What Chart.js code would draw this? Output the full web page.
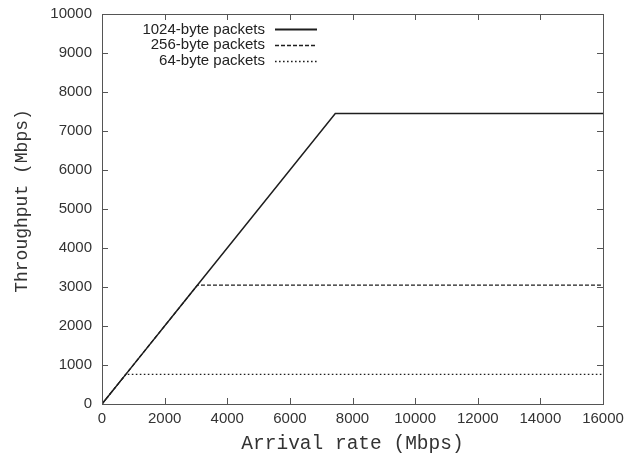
<!DOCTYPE html>
<html>
<head>
<meta charset="utf-8">
<script src="https://cdn.jsdelivr.net/npm/chart.js@4/dist/chart.umd.min.js"></script>
<style>
  html, body { margin: 0; padding: 0; background: #fff; }
  #wrap { width: 627px; height: 456px; }
</style>
</head>
<body>
<div id="wrap"><canvas id="c" width="627" height="456"></canvas></div>
<script>
// Throughput versus arrival rate for three packet sizes
const seriesLabels = ['1024-byte packets', '256-byte packets', '64-byte packets'];
const arrivalRate = [0, 760, 3050, 7450, 16000];           // Mbps
const throughput1024 = [0, 760, 3050, 7450, 7450];         // Mbps
const throughput256 = [0, 760, 3050, 3050, 3050];          // Mbps
const throughput64 = [0, 760, 760, 760, 760];              // Mbps
const xTicks = [0, 2000, 4000, 6000, 8000, 10000, 12000, 14000, 16000];
const yTicks = [0, 1000, 2000, 3000, 4000, 5000, 6000, 7000, 8000, 9000, 10000];
const xTitle = 'Arrival rate (Mbps)';
const yTitle = 'Throughput (Mbps)';

const toPoints = ys => arrivalRate.map((x, i) => ({ x, y: ys[i] }));
const dashes = [[], [4, 2], [1.6, 2.4]];
const widths = [1.5, 1.3, 1.3];
const lineColor = '#1e1e1e';
const axisColor = '#555';
const textColor = '#333';

// gnuplot-style frame: inward ticks on all four sides, mirrored
const framePlugin = {
  id: 'frame',
  afterDatasetsDraw(chart) {
    const { ctx, chartArea: a, scales } = chart;
    ctx.save();
    ctx.strokeStyle = axisColor;
    ctx.lineWidth = 1;
    ctx.strokeRect(a.left + 0.5, a.top + 0.5, a.right - a.left, a.bottom - a.top);
    const t = 6;
    ctx.beginPath();
    xTicks.forEach(v => {
      const px = Math.round(scales.x.getPixelForValue(v)) + 0.5;
      ctx.moveTo(px, a.bottom); ctx.lineTo(px, a.bottom - t);
      ctx.moveTo(px, a.top); ctx.lineTo(px, a.top + t);
    });
    yTicks.forEach(v => {
      const py = Math.round(scales.y.getPixelForValue(v)) + 0.5;
      ctx.moveTo(a.left, py); ctx.lineTo(a.left + t, py);
      ctx.moveTo(a.right, py); ctx.lineTo(a.right - t, py);
    });
    ctx.stroke();

    // vertical axis title, a little above the plot's middle
    ctx.font = '18px "Liberation Mono", "Courier New", monospace';
    ctx.fillStyle = textColor;
    ctx.textAlign = 'center';
    ctx.textBaseline = 'middle';
    ctx.translate(22, (a.top + a.bottom) / 2 - 8);
    ctx.rotate(-Math.PI / 2);
    ctx.fillText(yTitle, 0, 0);
    ctx.restore();
  }
};

// Key in the upper-left: right-aligned label followed by a line sample
const keyPlugin = {
  id: 'key',
  afterDraw(chart) {
    const { ctx } = chart;
    ctx.save();
    ctx.font = '15px "Liberation Sans", Arial, sans-serif';
    ctx.fillStyle = '#222';
    ctx.textAlign = 'right';
    ctx.textBaseline = 'middle';
    chart.data.datasets.forEach((ds, i) => {
      const y = 29 + i * 15.8;
      ctx.fillText(ds.label, 265, y + 0.5);
      ctx.strokeStyle = lineColor;
      ctx.lineWidth = i === 0 ? 2 : 1.3;
      ctx.setLineDash(dashes[i]);
      ctx.beginPath();
      ctx.moveTo(275, Math.round(y) + 0.5);
      ctx.lineTo(317, Math.round(y) + 0.5);
      ctx.stroke();
    });
    ctx.restore();
  }
};

const tickFont = { family: '"Liberation Sans", Arial, sans-serif', size: 15 };
const titleFont = { family: '"Liberation Mono", "Courier New", monospace', size: 19.5 };
const plain = v => String(v);

new Chart(document.getElementById('c'), {
  type: 'line',
  data: {
    datasets: [throughput1024, throughput256, throughput64].map((ys, i) => ({
      label: seriesLabels[i],
      data: toPoints(ys),
      borderColor: lineColor,
      borderWidth: widths[i],
      borderDash: dashes[i],
      pointRadius: 0,
      tension: 0,
      fill: false
    }))
  },
  options: {
    responsive: false,
    animation: false,
    events: [],
    layout: { padding: { left: 0, right: 24, top: 14, bottom: 0 } },
    plugins: { legend: { display: false }, tooltip: { enabled: false } },
    scales: {
      x: {
        type: 'linear',
        min: 0, max: 16000,
        afterBuildTicks: s => { s.ticks = xTicks.map(v => ({ value: v })); },
        afterFit: s => { s.height = 52; s.paddingLeft = 0; s.paddingRight = 0; },
        grid: { display: false, drawTicks: false },
        border: { display: false },
        ticks: { font: tickFont, color: textColor, padding: 6, maxRotation: 0, autoSkip: false, callback: plain },
        title: { display: true, text: xTitle, font: titleFont, color: textColor, padding: { top: 0, bottom: 0 } }
      },
      y: {
        type: 'linear',
        min: 0, max: 10000,
        afterBuildTicks: s => { s.ticks = yTicks.map(v => ({ value: v })); },
        afterFit: s => { s.width = 102; s.paddingTop = 0; s.paddingBottom = 0; },
        grid: { display: false, drawTicks: false },
        border: { display: false },
        ticks: { font: tickFont, color: textColor, padding: 10, autoSkip: false, callback: plain }
      }
    }
  },
  plugins: [framePlugin, keyPlugin]
});
</script>
</body>
</html>
